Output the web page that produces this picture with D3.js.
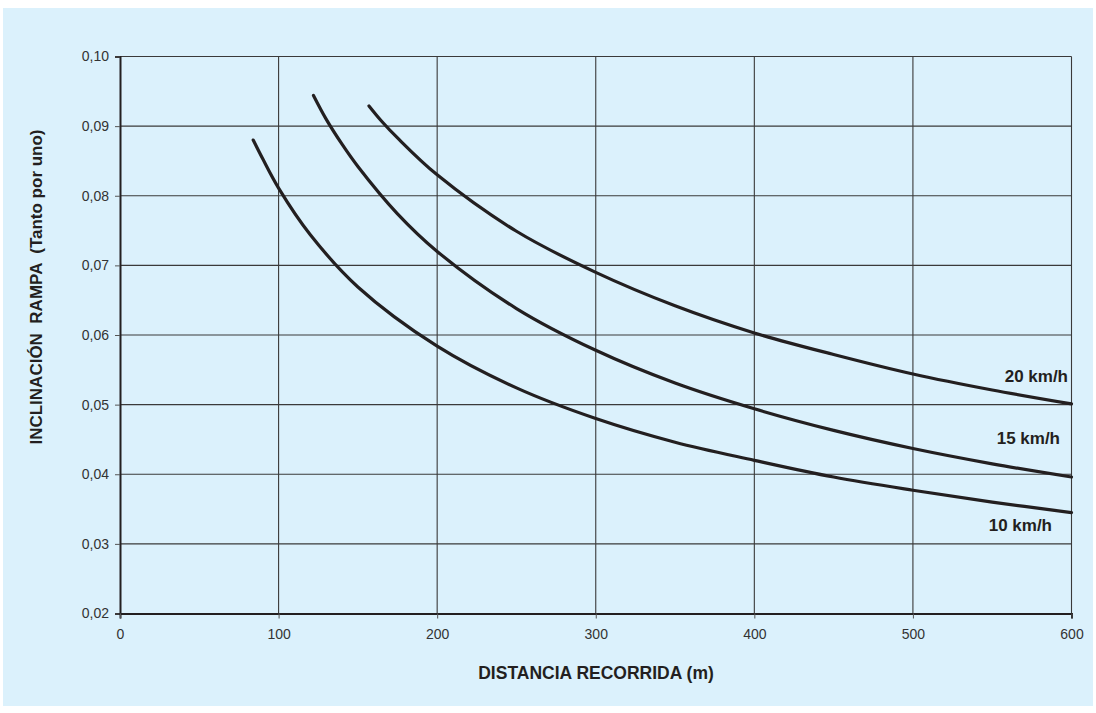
<!DOCTYPE html>
<html>
<head>
<meta charset="utf-8">
<script src="https://cdn.jsdelivr.net/npm/d3@7"></script>
<style>
  html, body { margin: 0; padding: 0; background: #ffffff; }
  svg { display: block; font-family: "Liberation Sans", Arial, sans-serif; }
</style>
</head>
<body>
<svg id="chart" width="1096" height="713"></svg>
<script>
// ---- data ----
const xTicks = [0, 100, 200, 300, 400, 500, 600];
const yTicks = [0.02, 0.03, 0.04, 0.05, 0.06, 0.07, 0.08, 0.09, 0.10];

const dist10 = [84, 90, 100, 120, 150, 200, 250, 300, 350, 400, 450, 500, 550, 600];
const incl10 = [0.0880, 0.0853, 0.0811, 0.0744, 0.0669, 0.0584, 0.0524, 0.0480, 0.0446, 0.0420, 0.0396, 0.0377, 0.0360, 0.0345];

const dist15 = [122, 130, 140, 150, 175, 200, 250, 300, 350, 400, 450, 500, 550, 600];
const incl15 = [0.0944, 0.0910, 0.0874, 0.0842, 0.0774, 0.0720, 0.0638, 0.0578, 0.0531, 0.0494, 0.0463, 0.0437, 0.0415, 0.0396];

const dist20 = [157, 165, 175, 200, 250, 300, 350, 400, 450, 500, 550, 600];
const incl20 = [0.0929, 0.0907, 0.0883, 0.0830, 0.0749, 0.0690, 0.0642, 0.0603, 0.0572, 0.0544, 0.0521, 0.0501];

const seriesNames = ["10 km/h", "15 km/h", "20 km/h"];
const xTitle = "DISTANCIA RECORRIDA (m)";
const yTitle = "INCLINACIÓN  RAMPA  (Tanto por uno)";

// ---- layout ----
const svg = d3.select("#chart");
const L = 120, R = 1071.5, T = 56.5, B = 613.5;
const FONT = "'Liberation Sans', Arial, sans-serif";

svg.append("rect").attr("x", 3).attr("y", 8).attr("width", 1090).attr("height", 698)
  .attr("fill", "#dbf1fc");

const x = d3.scaleLinear().domain([0, 600]).range([L, R]);
const y = d3.scaleLinear().domain([0.02, 0.10]).range([B, T]);

// grid
const g = svg.append("g");
g.selectAll("line.vg").data(xTicks.slice(1)).join("line")
  .attr("x1", d => x(d)).attr("x2", d => x(d)).attr("y1", T).attr("y2", B)
  .attr("stroke", "#3a3a3a").attr("stroke-width", 1.1);
g.selectAll("line.hg").data(yTicks.slice(1)).join("line")
  .attr("x1", L).attr("x2", R).attr("y1", d => y(d)).attr("y2", d => y(d))
  .attr("stroke", "#3a3a3a").attr("stroke-width", 1.1);

// axes
const fmt = d => d3.format(".2f")(d).replace(".", ",");
const yAxis = svg.append("g").attr("transform", `translate(${L},0)`)
  .call(d3.axisLeft(y).tickValues(yTicks).tickFormat(fmt).tickSize(5).tickPadding(6));
const xAxis = svg.append("g").attr("transform", `translate(0,${B})`)
  .call(d3.axisBottom(x).tickValues(xTicks).tickFormat(d3.format("d")).tickSize(5).tickPadding(11));
[yAxis, xAxis].forEach(a => {
  a.select(".domain").attr("stroke", "#231f20").attr("stroke-width", 2);
  a.selectAll(".tick line").attr("stroke", "#555");
  a.selectAll(".tick text").attr("fill", "#333").style("font-size", "14px")
    .style("font-family", FONT);
});

// curves
const series = [
  { name: seriesNames[0], d: dist10, v: incl10 },
  { name: seriesNames[1], d: dist15, v: incl15 },
  { name: seriesNames[2], d: dist20, v: incl20 }
];
const line = d3.line().x(p => x(p[0])).y(p => y(p[1])).curve(d3.curveCatmullRom.alpha(0.5));
svg.append("g").selectAll("path").data(series).join("path")
  .attr("d", s => line(s.d.map((dd, i) => [dd, s.v[i]])))
  .attr("fill", "none").attr("stroke", "#231f20").attr("stroke-width", 3.2)
  .attr("stroke-linecap", "round");

// series labels (baseline positions)
const labelPos = [
  { xr: 1052, yv: 0.03185 },
  { xr: 1060, yv: 0.04434 },
  { xr: 1068, yv: 0.05325 }
];
svg.append("g").selectAll("text").data(series).join("text")
  .attr("x", (s, i) => labelPos[i].xr)
  .attr("y", (s, i) => y(labelPos[i].yv))
  .attr("text-anchor", "end")
  .attr("fill", "#231f20").style("font-size", "17px").style("font-weight", "bold")
  .text(s => s.name);

// axis titles
svg.append("text").attr("x", 596).attr("y", 679).attr("text-anchor", "middle")
  .attr("fill", "#231f20").style("font-size", "17.5px").style("font-weight", "bold")
  .text(xTitle);
svg.append("text").attr("transform", "translate(42,287) rotate(-90)")
  .attr("text-anchor", "middle").attr("fill", "#231f20")
  .style("font-size", "17px").style("font-weight", "bold").style("white-space", "pre")
  .attr("xml:space", "preserve")
  .text(yTitle);
</script>
</body>
</html>
